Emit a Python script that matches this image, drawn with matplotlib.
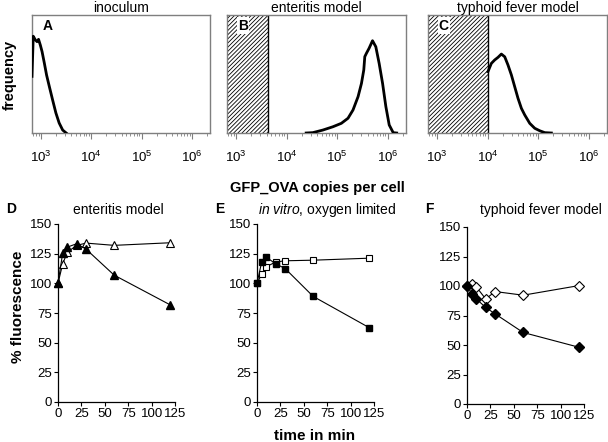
import numpy as np
import matplotlib
matplotlib.use("Agg")
import matplotlib.pyplot as plt
from matplotlib.ticker import FixedLocator, FixedFormatter, LogLocator, NullFormatter

plt.rcParams['font.family'] = ['Liberation Sans', 'DejaVu Sans']
plt.rcParams['mathtext.fontset'] = 'custom'
plt.rcParams['mathtext.rm'] = 'Liberation Sans'
plt.rcParams['mathtext.it'] = 'Liberation Sans:italic'
plt.rcParams['mathtext.bf'] = 'Liberation Sans:bold'
plt.rcParams['hatch.linewidth'] = 0.6

# ---- histogram data (log10 GFP_OVA copies, relative frequency) ----
inoc_log = [2.82, 2.845, 2.885, 2.92, 2.95, 2.985, 3.02, 3.065, 3.11, 3.165, 3.23, 3.295, 3.36, 3.43, 3.5]
inoc_freq = [0.48, 0.82, 0.79, 0.774, 0.794, 0.746, 0.69, 0.593, 0.491, 0.393, 0.28, 0.17, 0.085, 0.025, 0.0]

ent_log = [4.386, 4.517, 4.716, 4.915, 5.081, 5.213, 5.312, 5.412, 5.479, 5.525, 5.545, 5.578, 5.63, 5.698, 5.763, 5.829, 5.897, 5.962, 6.028, 6.107, 6.175]
ent_freq = [0.0, 0.003, 0.025, 0.053, 0.082, 0.125, 0.195, 0.308, 0.42, 0.534, 0.647, 0.676, 0.718, 0.782, 0.731, 0.59, 0.42, 0.223, 0.068, 0.003, 0.0]

typ_log = [4.006, 4.073, 4.139, 4.204, 4.271, 4.337, 4.402, 4.469, 4.535, 4.6, 4.667, 4.733, 4.832, 4.931, 5.03, 5.129, 5.26]
typ_freq = [0.52, 0.59, 0.619, 0.641, 0.669, 0.646, 0.576, 0.492, 0.392, 0.294, 0.209, 0.153, 0.082, 0.04, 0.019, 0.003, 0.0]

gate_B = 3.64   # log10 upper limit of hatched region in B
gate_C = 4.0    # log10 upper limit of hatched region in C

hist_ticks = [1e3, 1e4, 1e5, 1e6]
hist_ticklabels = ['$10^3$', '$10^4$', '$10^5$', '$10^6$']

# ---- time course data ----
time_min = [0, 5, 10, 20, 30, 60, 120]
D_filled = [100, 125.5, 130.5, 133.4, 128.8, 106.9, 81.8]
D_open = [100, 116.4, 126.3, 132, 133.9, 132, 134.2]
E_filled = [100, 118, 122, 116.4, 112.5, 89, 62.6]
E_open = [100, 107.7, 114, 118, 119, 119.5, 121.2]
F_filled = [100.4, 93.6, 89, 81.8, 76.4, 60.6, 48]
F_open = [100, 102, 99.2, 89, 95.3, 92.2, 100.4]

tc_ticks = [0, 25, 50, 75, 100, 125]
tc_yticks = [0, 25, 50, 75, 100, 125, 150]

W, H = 608, 442
fig = plt.figure(figsize=(W / 100, H / 100), dpi=100)


def rect(l, r, t, b):
    return [l / W, 1 - b / H, (r - l) / W, (b - t) / H]


def ftext(x, y, s, **kw):
    fig.text(x / W, 1 - y / H, s, **kw)


gray = '#7f7f7f'
xlo, xhi = 10 ** 2.82, 10 ** 6.36

top_specs = [
    (rect(32, 210, 15, 133), inoc_log, inoc_freq, None, 'A', 'inoculum'),
    (rect(227, 406, 15, 133), ent_log, ent_freq, gate_B, 'B', 'enteritis model'),
    (rect(428, 607, 15, 133), typ_log, typ_freq, gate_C, 'C', 'typhoid fever model'),
]
for pos, lg, fr, gate, letter, title in top_specs:
    ax = fig.add_axes(pos)
    ax.set_xscale('log')
    ax.set_xlim(xlo, xhi)
    ax.set_ylim(0, 1)
    if gate is not None:
        ax.axvspan(xlo, 10 ** gate, facecolor='white', edgecolor='black',
                   hatch='////////', linewidth=0, zorder=1)
        ax.axvline(10 ** gate, color='black', lw=1.0, zorder=2)
    ax.plot(10 ** np.array(lg), fr, color='black', lw=2.0, zorder=3,
            solid_joinstyle='round')
    for s in ax.spines.values():
        s.set_color(gray)
        s.set_linewidth(1.0)
    ax.set_yticks([])
    ax.xaxis.set_major_locator(FixedLocator(hist_ticks))
    ax.xaxis.set_major_formatter(FixedFormatter(hist_ticklabels))
    ax.xaxis.set_minor_locator(LogLocator(base=10, subs=np.arange(2, 10), numticks=20))
    ax.xaxis.set_minor_formatter(NullFormatter())
    ax.tick_params(axis='x', which='major', direction='out', length=4, width=0.8,
                   color=gray, labelsize=9.5, pad=8)
    ax.tick_params(axis='x', which='minor', direction='out', length=2, width=0.6, color=gray)
    ax.text(0.06, 0.97, letter, transform=ax.transAxes, fontsize=10, fontweight='bold',
            ha='left', va='top', zorder=5,
            bbox=dict(facecolor='white', edgecolor='none', pad=0.8))
    ax.set_title(title, fontsize=10, pad=1)

ftext(10, 75, 'frequency', rotation=90, fontsize=10.5, fontweight='bold', ha='center', va='center')
ftext(317, 188, 'GFP_OVA copies per cell', fontsize=10.5, fontweight='bold', ha='center', va='center')

bot_specs = [
    (rect(58, 175, 224, 402), D_filled, D_open, '^', 'D', 'enteritis model', 118),
    (rect(257, 374, 224, 402), E_filled, E_open, 's', 'E', None, 327),
    (rect(467, 584, 227, 404), F_filled, F_open, 'D', 'F', 'typhoid fever model', 541),
]
marker_sizes = {'^': 5.5, 's': 5.0, 'D': 4.8}
for pos, yf, yo, mk, letter, title, tx in bot_specs:
    ax = fig.add_axes(pos)
    ms = marker_sizes[mk]
    ax.plot(time_min, yo, color='black', lw=0.8, marker=mk, ms=ms, mfc='white',
            mec='black', mew=0.8, clip_on=False, zorder=3)
    ax.plot(time_min, yf, color='black', lw=0.8, marker=mk, ms=ms, mfc='black',
            mec='black', clip_on=False, zorder=4)
    ax.set_xlim(0, 125)
    ax.set_ylim(0, 150)
    ax.spines['top'].set_visible(False)
    ax.spines['right'].set_visible(False)
    ax.spines['left'].set_linewidth(0.9)
    ax.spines['bottom'].set_linewidth(0.9)
    ax.set_xticks(tc_ticks)
    ax.set_yticks(tc_yticks)
    ax.tick_params(direction='out', length=3, width=0.8, labelsize=9.5, pad=1.5)
    ftext(pos[0] * W - 52 if letter == 'D' else pos[0] * W - 42, 209, letter,
          fontsize=10, fontweight='bold', ha='left', va='center')
    if title is not None:
        ftext(tx, 210, title, fontsize=10, ha='center', va='center')
    else:
        ftext(tx, 210, r'$\it{in\ vitro}$, oxygen limited', fontsize=10, ha='center', va='center')

ftext(18, 307, '% fluorescence', rotation=90, fontsize=11, fontweight='bold', ha='center', va='center')
ftext(315, 436, 'time in min', fontsize=11, fontweight='bold', ha='center', va='center')

fig.savefig('out.png', dpi=100)
